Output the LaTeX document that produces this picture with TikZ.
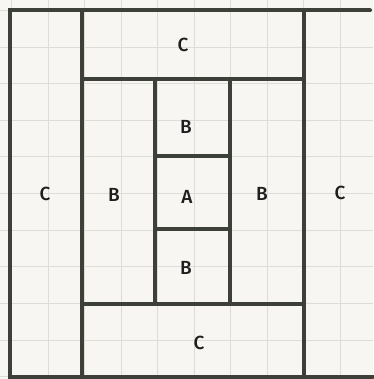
\documentclass[tikz,border=0pt]{standalone}
\usepackage{fontspec}
\setmainfont{Fira Sans}
\newfontfamily\lblfont{Fira Sans Medium}
\definecolor{paper}{HTML}{F8F6F3}
\definecolor{gridc}{HTML}{DEDCD4}
\definecolor{ink}{HTML}{3C4039}
\definecolor{letter}{HTML}{1E1E1E}
\tikzset{
  seam/.style={draw=ink, line width=4pt, line cap=round},
  gridline/.style={draw=gridc, line width=0.8pt},
  lbl/.style={text=letter, font=\lblfont\fontsize{19}{21}\selectfont, inner sep=0pt}
}
\begin{document}
\begin{tikzpicture}[x=1pt,y=-1pt]
\fill[paper] (0,0) rectangle (373,379);
\useasboundingbox (0,0) rectangle (373,379);
% grid
\foreach \k in {0,...,10}{
  \draw[gridline] ({11.5+36.5*\k},0) -- ({11.5+36.5*\k},379);
  \draw[gridline] (0,{10.5+36.6*\k}) -- (373,{10.5+36.6*\k});
}
% outer frame
\draw[seam] (370,10.5) -- (10,10.5) -- (10,376.5) -- (373,376.5);
% vertical strips
\draw[seam] (82,10.5) -- (82,376.5);
\draw[seam] (304,10.5) -- (304,376.5);
% inner horizontal
\draw[seam] (82,79) -- (304,79);
\draw[seam] (82,304) -- (304,304);
% centre column
\draw[seam] (155,79) -- (155,304);
\draw[seam] (230,79) -- (230,304);
\draw[seam] (155,156) -- (230,156);
\draw[seam] (155,229) -- (230,229);
% labels
\node[lbl] (ctop) at (183,45) {C};
\node[lbl] (bup) at (186,127) {B};
\node[lbl] (a) at (187,197) {A};
\node[lbl] (blo) at (186,268) {B};
\node[lbl] (cbot) at (199,343) {C};
\node[lbl] (cleft) at (45,194) {C};
\node[lbl] (bleft) at (114,195) {B};
\node[lbl] (bright) at (262,194) {B};
\node[lbl] (cright) at (340,193) {C};
\end{tikzpicture}
\end{document}
